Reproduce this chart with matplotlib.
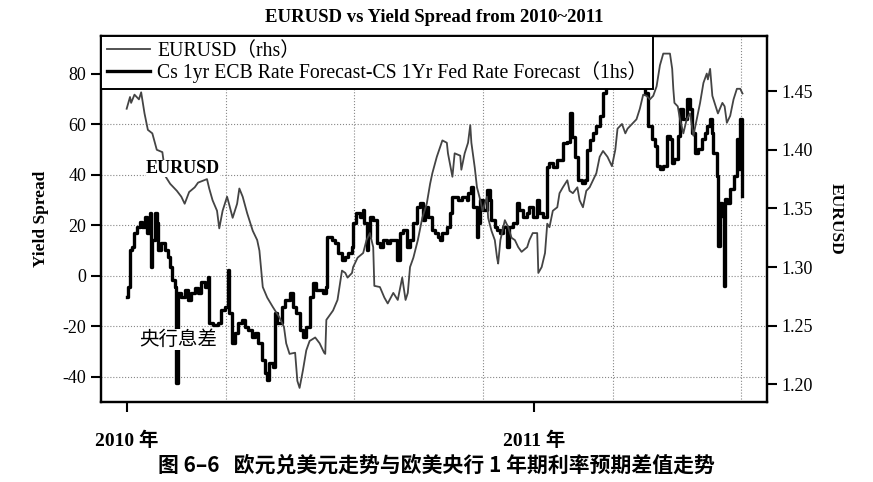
import pandas as pd
import matplotlib
matplotlib.use('Agg')
import matplotlib.pyplot as plt

plt.rcParams['font.family'] = ['Liberation Serif', 'Noto Sans CJK SC']
plt.rcParams['axes.unicode_minus'] = False

# EURUSD (rhs), days since 2010-01-01
eur_day = [0, 3, 4, 7, 11, 13, 16, 19, 23, 27, 32, 35, 39, 45, 49, 52, 56, 61, 64, 72,
           74, 77, 81, 83, 86, 90, 92, 95, 99, 101, 104, 108, 113, 117, 119, 122, 126, 131, 137, 141,
           143, 146, 151, 153, 155, 158, 161, 164, 169, 173, 177, 178, 179, 185, 189, 193, 196, 198, 202, 203,
           207, 212, 215, 218, 221, 222, 227, 231, 234, 239, 243, 247, 250, 252, 254, 257, 261, 265, 269, 272,
           274, 278, 283, 287, 288, 292, 294, 299, 300, 303, 306, 308, 309, 312, 314, 317, 319, 323, 324, 327,
           330, 332, 333, 335, 339, 342, 345, 348, 351, 354, 359, 361, 364, 368, 369, 372, 375, 377, 379, 382,
           386, 388, 391, 395, 397, 400, 404, 406, 409, 412, 415, 418, 421, 424, 427, 431, 435, 438, 440, 444,
           447, 449, 454, 457, 460, 463, 466, 469, 472, 475, 478, 481, 487, 489, 490, 491, 494, 496, 499, 502,
           505, 508, 511, 514, 517, 520, 521, 523, 525, 527, 530, 534, 536, 538, 541, 544, 547, 550, 552]
eurusd = [1.435, 1.445, 1.440, 1.447, 1.443, 1.449, 1.431, 1.417, 1.414, 1.400, 1.398, 1.377, 1.371, 1.365, 1.360, 1.354, 1.364, 1.368, 1.372, 1.375,
          1.367, 1.357, 1.348, 1.333, 1.348, 1.360, 1.353, 1.342, 1.354, 1.367, 1.360, 1.346, 1.331, 1.323, 1.314, 1.283, 1.274, 1.266, 1.257, 1.249,
          1.235, 1.226, 1.227, 1.203, 1.197, 1.212, 1.229, 1.237, 1.240, 1.235, 1.227, 1.226, 1.255, 1.263, 1.272, 1.297, 1.295, 1.291, 1.295, 1.300,
          1.308, 1.312, 1.323, 1.329, 1.317, 1.284, 1.283, 1.274, 1.269, 1.278, 1.272, 1.291, 1.272, 1.278, 1.300, 1.308, 1.323, 1.342, 1.354, 1.371,
          1.380, 1.394, 1.408, 1.406, 1.397, 1.377, 1.397, 1.395, 1.383, 1.397, 1.406, 1.421, 1.406, 1.385, 1.368, 1.357, 1.348, 1.360, 1.342, 1.331,
          1.323, 1.308, 1.303, 1.323, 1.340, 1.334, 1.325, 1.323, 1.317, 1.313, 1.317, 1.323, 1.329, 1.329, 1.295, 1.300, 1.312, 1.337, 1.334, 1.348,
          1.351, 1.363, 1.368, 1.374, 1.365, 1.363, 1.368, 1.357, 1.351, 1.365, 1.368, 1.374, 1.380, 1.394, 1.399, 1.394, 1.386, 1.400, 1.418, 1.422,
          1.414, 1.418, 1.423, 1.426, 1.435, 1.447, 1.446, 1.443, 1.446, 1.454, 1.472, 1.482, 1.482, 1.469, 1.452, 1.440, 1.437, 1.426, 1.414, 1.426,
          1.431, 1.412, 1.426, 1.440, 1.457, 1.465, 1.460, 1.469, 1.446, 1.440, 1.431, 1.440, 1.437, 1.423, 1.429, 1.443, 1.452, 1.452, 1.448]

# ECB minus Fed 1yr forecast spread (lhs)
spr_day = [0, 1, 3, 5, 7, 9, 12, 14, 16, 18, 21, 22, 23, 25, 27, 28, 31, 34, 37, 39,
           41, 43, 44, 46, 49, 52, 55, 58, 61, 64, 67, 70, 73, 74, 77, 82, 85, 88, 91, 92,
           94, 97, 100, 103, 106, 109, 112, 115, 118, 121, 124, 126, 128, 131, 133, 135, 139, 142, 146, 149,
           152, 155, 158, 161, 164, 167, 170, 173, 176, 179, 180, 184, 187, 189, 193, 196, 198, 202, 203, 206,
           209, 212, 213, 215, 216, 218, 221, 224, 227, 230, 233, 236, 239, 242, 245, 248, 251, 254, 257, 260,
           263, 266, 267, 270, 274, 276, 279, 281, 283, 287, 290, 292, 297, 301, 305, 306, 309, 310, 314, 315,
           317, 319, 323, 326, 327, 330, 332, 335, 337, 341, 343, 346, 350, 352, 355, 359, 361, 364, 368, 370,
           373, 377, 379, 382, 386, 388, 391, 395, 397, 399, 402, 405, 408, 411, 413, 415, 418, 421, 424, 427,
           430, 442, 460, 465, 467, 471, 474, 475, 478, 481, 484, 487, 489, 491, 494, 496, 499, 502, 505, 507,
           509, 512, 516, 518, 520, 523, 525, 526, 529, 530, 532, 534, 535, 536, 538, 541, 544, 547, 548, 550, 552]
spread = [-8.4, -4.5, 10.2, 11.4, 16.9, 19.3, 21.3, 19.3, 23.3, 16.9, 25.0, 3.4, 14.1, 25.0, 20.9, 10.2, 13.0, 10.2, 7.4, 3.4,
          -1.7, -4.5, -42.5, -6.9, -8.4, -5.7, -9.6, -6.9, -4.9, -6.9, -2.5, -4.5, -0.5, -18.7, -19.5, -18.7, -13.6, -12.4, 2.3, -14.8,
          -26.7, -22.7, -18.7, -17.5, -20.3, -21.5, -24.3, -22.7, -26.7, -33.4, -38.5, -41.3, -34.6, -36.2, -14.8, -18.7, -12.4, -9.6, -6.9, -12.4,
          -14.8, -21.5, -24.3, -20.3, -8.4, -2.9, -5.7, -5.7, -6.9, -4.5, 15.3, 14.1, 12.9, 9.0, 6.2, 7.4, 9.0, 11.4, 20.9, 24.8,
          23.2, 26.0, 20.9, 10.2, 15.3, 23.2, 22.1, 13.0, 11.4, 14.1, 13.0, 14.1, 14.1, 6.2, 16.9, 18.1, 11.4, 14.1, 20.9, 27.2,
          28.8, 22.1, 27.2, 23.2, 18.1, 16.9, 15.3, 14.1, 16.9, 19.3, 24.8, 31.2, 30.0, 31.2, 30.0, 32.7, 35.1, 27.2, 15.3, 20.9,
          30.0, 26.0, 33.9, 30.0, 22.1, 19.3, 18.1, 16.9, 19.3, 11.4, 19.3, 20.9, 28.8, 26.0, 23.2, 24.8, 27.2, 23.2, 30.0, 24.8,
          23.2, 43.0, 44.6, 43.0, 45.8, 45.8, 52.6, 53.0, 64.4, 54.9, 47.0, 37.9, 36.6, 37.9, 49.8, 53.7, 56.5, 59.3, 63.2, 72.4,
          77.5, 81.5, 80.7, 72.4, 59.3, 54.1, 51.3, 43.4, 42.2, 43.4, 55.3, 54.1, 44.6, 46.2, 55.3, 66.0, 62.1, 70.0, 66.0, 56.5,
          48.6, 50.2, 54.1, 56.5, 59.3, 62.1, 56.5, 48.6, 39.5, 11.8, 28.8, 23.6, -4.1, 30.3, 28.8, 34.3, 39.5, 54.1, 42.2, 62.1, 31.6]

grid_day = [89, 204, 319, 436, 551]
yticks_l = [-40, -20, 0, 20, 40, 60, 80]
yticks_r = [1.20, 1.25, 1.30, 1.35, 1.40, 1.45]

t0 = pd.Timestamp('2010-01-01')
eur_dates = t0 + pd.to_timedelta(eur_day, unit='D')
spr_dates = t0 + pd.to_timedelta(spr_day, unit='D')

fig = plt.figure(figsize=(8.73, 4.82), dpi=100)
ax = fig.add_axes([0.1157, 0.166, 0.7629, 0.7593])
ax2 = ax.twinx()

for d in grid_day:
    ax.axvline(t0 + pd.Timedelta(days=d), color='#888888', ls=':', lw=0.8, zorder=0)
for v in yticks_l[:-1]:
    ax.axhline(v, color='#888888', ls=':', lw=0.8, zorder=0)

l1, = ax.plot(spr_dates, spread, color='black', lw=2.4, drawstyle='steps-post')
l2, = ax2.plot(eur_dates, eurusd, color='#444444', lw=1.3)

ax.set_xlim(t0 - pd.Timedelta(days=23), t0 + pd.Timedelta(days=574))
ax.set_ylim(-50, 95)
ax2.set_ylim(1.185, 1.497)

ax.set_yticks(yticks_l)
ax2.set_yticks(yticks_r)
ax2.set_yticklabels(['%.2f' % v for v in yticks_r])
ax.set_xticks([pd.Timestamp('2010-01-01'), pd.Timestamp('2011-01-01')])
ax.set_xticklabels(['2010 年', '2011 年'], fontweight='bold', fontsize=14)

for a in (ax, ax2):
    for s in a.spines.values():
        s.set_linewidth(1.6)
    a.tick_params(direction='out', length=7, width=1.5, labelsize=13)
ax.tick_params(axis='x', pad=14, labelsize=14)

ax.set_ylabel('Yield Spread', fontsize=12.5, fontweight='bold', labelpad=10)
ax2.set_ylabel('EURUSD', fontsize=12.5, fontweight='bold', rotation=270, labelpad=22)
ax.set_title('EURUSD vs Yield Spread from 2010~2011', fontsize=13.5, fontweight='bold', pad=10)

leg = ax2.legend([l2, l1], ['EURUSD（rhs）', 'Cs 1yr ECB Rate Forecast-CS 1Yr Fed Rate Forecast（1hs）'],
                 loc='upper left', bbox_to_anchor=(0, 1), borderaxespad=0, fontsize=14.2,
                 fancybox=False, framealpha=1, edgecolor='black', handlelength=2.2,
                 labelspacing=0.0, borderpad=0.3, handletextpad=0.35)
leg.get_frame().set_linewidth(1.4)
leg.set_zorder(10)

ax2.text(0.123, 0.638, 'EURUSD', transform=ax2.transAxes, ha='center', va='center',
         fontsize=13, fontweight='bold', bbox=dict(facecolor='white', edgecolor='none', pad=0))
ax2.text(0.116, 0.172, '央行息差', transform=ax2.transAxes, ha='center', va='center',
         fontsize=14, family=['Noto Sans CJK SC'], bbox=dict(facecolor='white', edgecolor='none', pad=0))

fig.text(0.5, 0.035, '图 6–6   欧元兑美元走势与欧美央行 1 年期利率预期差值走势', ha='center', va='center',
         fontsize=15, fontweight='bold', family=['Noto Sans CJK SC', 'DejaVu Sans'])

fig.savefig('out.png', dpi=100)
